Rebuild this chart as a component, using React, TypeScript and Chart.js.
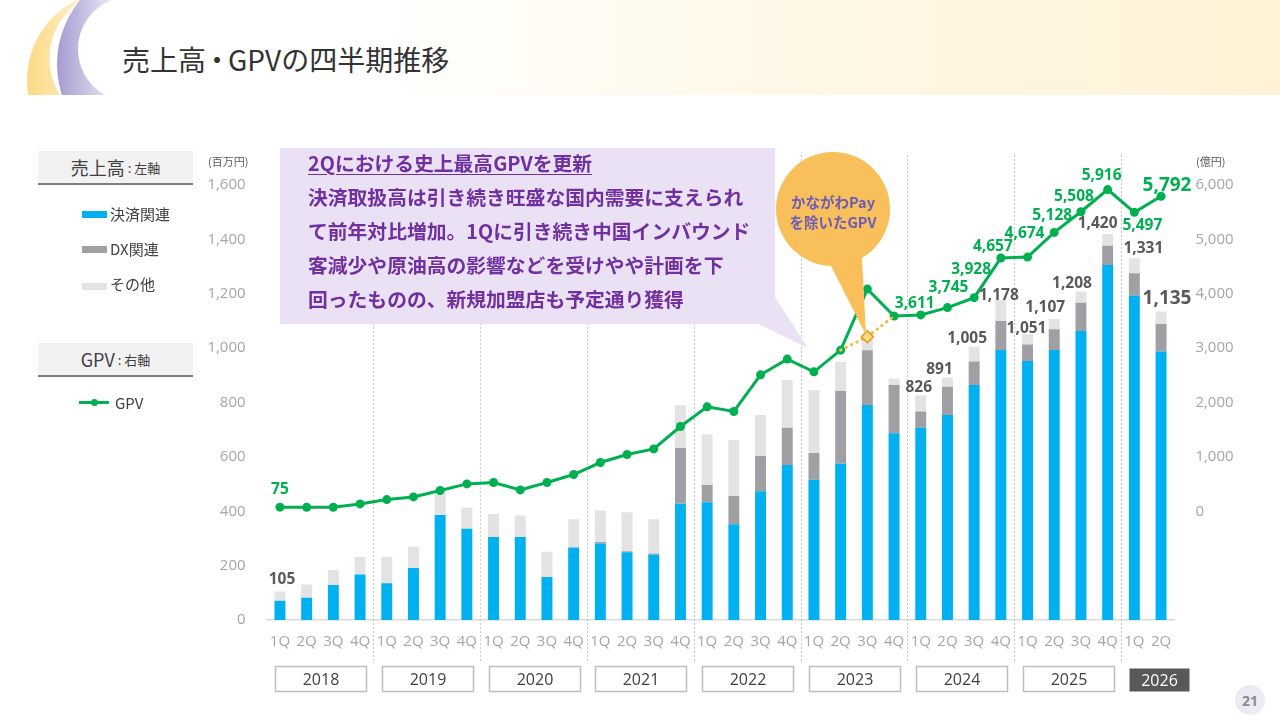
import React, { useEffect, useRef } from "react";
import { Chart, registerables } from "chart.js";

Chart.register(...registerables);

// ---------- data ----------
const quarterLabels = [
  "1Q", "2Q", "3Q", "4Q", // 2018
  "1Q", "2Q", "3Q", "4Q", // 2019
  "1Q", "2Q", "3Q", "4Q", // 2020
  "1Q", "2Q", "3Q", "4Q", // 2021
  "1Q", "2Q", "3Q", "4Q", // 2022
  "1Q", "2Q", "3Q", "4Q", // 2023
  "1Q", "2Q", "3Q", "4Q", // 2024
  "1Q", "2Q", "3Q", "4Q", // 2025
  "1Q", "2Q", // 2026
];
const yearLabels = ["2018", "2019", "2020", "2021", "2022", "2023", "2024", "2025", "2026"];

// 売上高 (百万円)
const paymentSales = [
  71, 82, 129, 167,
  135, 191, 386, 336,
  305, 305, 158, 267,
  281, 249, 240, 428,
  433, 352, 474, 570,
  516, 575, 791, 687,
  707, 754, 864, 993,
  953, 993, 1063, 1306,
  1194, 988,
];
const dxSales = [
  0, 0, 0, 0,
  0, 0, 0, 0,
  0, 0, 0, 0,
  6, 4, 5, 205,
  64, 104, 129, 137,
  98, 267, 201, 177,
  60, 104, 87, 107,
  60, 76, 104, 71,
  81, 101,
];
const otherSales = [
  34, 49, 55, 65,
  97, 79, 84, 78,
  85, 79, 93, 104,
  116, 143, 126, 158,
  186, 206, 151, 176,
  232, 108, 40, 24,
  59, 33, 54, 78,
  38, 38, 41, 43,
  56, 46,
];
const salesLabelValues: (number | null)[] = [
  105, null, null, null,
  null, null, null, null,
  null, null, null, null,
  null, null, null, null,
  null, null, null, null,
  null, null, null, null,
  826, 891, 1005, 1178,
  1051, 1107, 1208, 1420,
  1331, 1135,
];

// GPV (億円)
const gpvValues = [
  75, 72, 73, 135,
  215, 264, 381, 503,
  528, 392, 528, 675,
  896, 1043, 1147, 1559,
  1920, 1835, 2509, 2798,
  2564, 2963, 4086, 3590,
  3611, 3745, 3928, 4657,
  4674, 5128, 5508, 5916,
  5497, 5792,
];
const gpvExKanagawa: (number | null)[] = [
  null, null, null, null,
  null, null, null, null,
  null, null, null, null,
  null, null, null, null,
  null, null, null, null,
  null, 2963, 3209, 3590,
  null, null, null, null,
  null, null, null, null,
  null, null,
];
const gpvLabelValues: (number | null)[] = [
  75, null, null, null,
  null, null, null, null,
  null, null, null, null,
  null, null, null, null,
  null, null, null, null,
  null, null, null, null,
  3611, 3745, 3928, 4657,
  4674, 5128, 5508, 5916,
  5497, 5792,
];

const fmt = (v: number) => String(Math.round(v)).replace(/\B(?=(\d{3})+(?!\d))/g, ",");
const FAM = "'Open Sans', 'Noto Sans CJK JP', sans-serif";
const JP = "'Noto Sans CJK JP', 'Noto Sans', sans-serif";

export default function App() {
  const canvasRef = useRef<HTMLCanvasElement>(null);

  useEffect(() => {
    const canvas = canvasRef.current;
    if (!canvas) return;
    const n = quarterLabels.length;
    const last = n - 1;

    // label offsets (label centre relative to anchor)
    const barOff: Record<number, [number, number]> = {
      0: [2, -12], 24: [-2, -8], 25: [-8, -8], 26: [-7, -8], 27: [-2, -4],
      28: [-1, -6], 29: [-9, -11], 30: [-9, -8], 31: [-10, -10], 32: [9, -10], 33: [6, -13],
    };
    const gpvOff: Record<number, [number, number]> = {
      0: [0, -18], 24: [-6, -11], 25: [1, -20], 26: [-3, -28], 27: [-8, -11],
      28: [-3, -24], 29: [-2, -17], 30: [-7, -15], 31: [-6, -14], 32: [8, 13], 33: [6, -11],
    };

    const decor = {
      id: "decor",
      beforeDatasetsDraw(chart: any) {
        const { ctx } = chart;
        const x = chart.scales.x;
        ctx.save();
        ctx.strokeStyle = "#C8C8C8";
        ctx.lineWidth = 1;
        ctx.setLineDash([2, 2]);
        for (let i = 4; i < n; i += 4) {
          const xp = Math.round((x.getPixelForValue(i - 1) + x.getPixelForValue(i)) / 2) + 0.5;
          ctx.beginPath();
          ctx.moveTo(xp, 155);
          ctx.lineTo(xp, 662);
          ctx.stroke();
        }
        ctx.restore();
      },
      afterDatasetsDraw(chart: any) {
        const { ctx } = chart;
        const x = chart.scales.x;
        const y = chart.scales.y;
        const y1 = chart.scales.y1;
        ctx.save();
        ctx.textAlign = "center";
        ctx.textBaseline = "middle";
        salesLabelValues.forEach((v, i) => {
          if (v == null) return;
          const o = barOff[i] || [0, -10];
          ctx.font = `bold ${i === last ? 19 : 15.5}px ${FAM}`;
          ctx.fillStyle = "#595959";
          ctx.fillText(fmt(v), x.getPixelForValue(i) + o[0], y.getPixelForValue(v) + o[1]);
        });
        gpvLabelValues.forEach((v, i) => {
          if (v == null) return;
          const o = gpvOff[i] || [0, -14];
          ctx.font = `bold ${i === last ? 19 : 15.5}px ${FAM}`;
          ctx.fillStyle = "#00B050";
          ctx.fillText(fmt(v), x.getPixelForValue(i) + o[0], y1.getPixelForValue(v) + o[1]);
        });
        // year boxes
        yearLabels.forEach((yr, k) => {
          const first = k * 4;
          const lastQ = Math.min(k * 4 + 3, last);
          const isLastYear = k === yearLabels.length - 1;
          const left = Math.round(x.getPixelForValue(first) - 5) + 0.5;
          const right = Math.round(x.getPixelForValue(lastQ) + (isLastYear ? 28 : 6)) + 0.5;
          const top = isLastYear ? 668.5 : 666.5;
          const bottom = 691.5;
          if (isLastYear) {
            ctx.fillStyle = "#58585A";
            ctx.fillRect(left, top, right - left, bottom - top);
          } else {
            ctx.fillStyle = "#FFFFFF";
            ctx.fillRect(left, top, right - left, bottom - top);
            ctx.strokeStyle = "#BFBFBF";
            ctx.lineWidth = 1.5;
            ctx.strokeRect(left, top, right - left, bottom - top);
          }
          ctx.font = `16px ${FAM}`;
          ctx.fillStyle = isLastYear ? "#FFFFFF" : "#404040";
          ctx.fillText(yr, (left + right) / 2, (top + bottom) / 2 + 1);
        });
        ctx.restore();
      },
    };

    const tickFont = { size: 15, family: FAM };
    const chart = new Chart(canvas, {
      type: "bar",
      data: {
        labels: quarterLabels,
        datasets: [
          {
            type: "line",
            label: "かながわPayを除いたGPV",
            data: gpvExKanagawa,
            yAxisID: "y1",
            borderColor: "#F8B84A",
            borderWidth: 3,
            borderDash: [0.5, 5.5],
            borderCapStyle: "round",
            pointStyle: "rectRot",
            pointRadius: (c: any) => (c.dataIndex === 22 ? 6 : 0),
            pointBackgroundColor: "#FFDF80",
            pointBorderColor: "#E3961B",
            pointBorderWidth: 1.5,
            order: -1,
            spanGaps: false,
          } as any,
          {
            type: "line",
            label: "GPV",
            data: gpvValues,
            yAxisID: "y1",
            borderColor: "#00B050",
            backgroundColor: "#00B050",
            borderWidth: 3,
            pointRadius: 4.5,
            pointBackgroundColor: "#00B050",
            pointBorderWidth: 0,
            tension: 0,
            order: 0,
          } as any,
          {
            label: "決済関連",
            data: paymentSales,
            backgroundColor: "#00B0F0",
            yAxisID: "y",
            stack: "sales",
            order: 2,
            barPercentage: 0.41,
            categoryPercentage: 1,
          },
          {
            label: "DX関連",
            data: dxSales,
            backgroundColor: "#A0A0A4",
            yAxisID: "y",
            stack: "sales",
            order: 2,
            barPercentage: 0.41,
            categoryPercentage: 1,
          },
          {
            label: "その他",
            data: otherSales,
            backgroundColor: "#E3E3E3",
            yAxisID: "y",
            stack: "sales",
            order: 2,
            barPercentage: 0.41,
            categoryPercentage: 1,
          },
        ],
      },
      options: {
        responsive: false,
        animation: false,
        events: [],
        layout: { padding: { top: 185, left: 0, right: 0, bottom: 0 } },
        plugins: { legend: { display: false }, tooltip: { enabled: false } },
        scales: {
          x: {
            stacked: true,
            offset: true,
            grid: { display: false, drawTicks: false },
            border: { display: true, color: "#DADADA", width: 1.5 },
            ticks: { color: "#A6A6A6", font: tickFont, padding: 13, maxRotation: 0, autoSkip: false },
            afterFit: (s: any) => { s.height = 100; },
          },
          y: {
            position: "left",
            stacked: true,
            min: 0,
            max: 1600,
            grid: { display: false, drawTicks: false },
            border: { display: false },
            ticks: { stepSize: 200, color: "#A6A6A6", font: tickFont, padding: 21, callback: (v: any) => fmt(Number(v)) },
            afterFit: (s: any) => { s.width = 266.6; },
          },
          y1: {
            position: "right",
            min: -2000,
            max: 6000,
            grid: { display: false, drawTicks: false },
            border: { display: false },
            ticks: {
              stepSize: 1000,
              color: "#A6A6A6",
              font: tickFont,
              padding: 21,
              callback: (v: any) => (Number(v) < 0 ? "" : fmt(Number(v))),
            },
            afterFit: (s: any) => { s.width = 105.6; },
          },
        },
      } as any,
      plugins: [decor],
    });
    return () => chart.destroy();
  }, []);

  const legendHeader: React.CSSProperties = {
    position: "absolute",
    left: 38,
    width: 155,
    height: 32,
    background: "#F2F2F2",
    borderBottom: "2px solid #7F7F7F",
    display: "flex",
    alignItems: "center",
    justifyContent: "center",
    color: "#404040",
    fontFamily: JP,
    whiteSpace: "pre",
  };
  const legendText: React.CSSProperties = {
    position: "absolute",
    left: 110,
    fontSize: 15,
    color: "#404040",
    fontFamily: JP,
    lineHeight: "18px",
  };

  return (
    <div style={{ position: "absolute", left: 0, top: 0, width: 1280, height: 720, overflow: "hidden", background: "#FFFFFF" }}>
      {/* header band */}
      <div
        style={{
          position: "absolute", left: 0, top: 0, width: 1280, height: 95,
          background: "linear-gradient(90deg, #FFFFFF 0%, #FFFFFF 28%, #FFF8E8 60%, #FFF2D6 100%)",
        }}
      />
      <svg width={1280} height={720} style={{ position: "absolute", left: 0, top: 0, pointerEvents: "none" }}>
        <defs>
          <clipPath id="band"><rect x={0} y={0} width={300} height={95} /></clipPath>
          <linearGradient id="yel" gradientUnits="userSpaceOnUse" x1="26" y1="0" x2="100" y2="0">
            <stop offset="0" stopColor="#FCD983" />
            <stop offset="0.35" stopColor="#FDE3A2" />
            <stop offset="0.75" stopColor="#FFF3D6" />
            <stop offset="1" stopColor="#FFFFFF" />
          </linearGradient>
          <linearGradient id="pur" gradientUnits="userSpaceOnUse" x1="56" y1="0" x2="128" y2="0">
            <stop offset="0" stopColor="#A49BCF" />
            <stop offset="0.35" stopColor="#C2BCE0" />
            <stop offset="0.75" stopColor="#E8E5F3" />
            <stop offset="1" stopColor="#FFFFFF" />
          </linearGradient>
        </defs>
        <g clipPath="url(#band)">
          <circle cx={116} cy={80} r={89} fill="url(#yel)" />
          <circle cx={117.4} cy={58.6} r={68} fill="#FFFFFF" />
          <circle cx={157} cy={64} r={100} fill="url(#pur)" />
          <circle cx={130.4} cy={49.1} r={52.4} fill="#FFFFFF" />
        </g>
      </svg>
      <div
        style={{
          position: "absolute", left: 122, top: 41, fontSize: 28, lineHeight: "36px",
          color: "#333333", fontFamily: JP, whiteSpace: "nowrap",
        }}
      >
        売上高<span style={{ margin: "0 -3px" }}>・</span>GPVの四半期推移
      </div>

      <canvas ref={canvasRef} width={1280} height={720} style={{ position: "absolute", left: 0, top: 0, width: 1280, height: 720 }} />

      {/* axis units */}
      <div style={{ position: "absolute", left: 208, top: 153, fontSize: 11, color: "#595959", fontFamily: JP }}>(百万円)</div>
      <div style={{ position: "absolute", left: 1196, top: 153, fontSize: 11, color: "#595959", fontFamily: JP }}>(億円)</div>

      {/* legend */}
      <div style={{ ...legendHeader, top: 151 }}>
        <span style={{ fontSize: 18 }}>売上高</span>
        <span style={{ fontSize: 13 }}> : 左軸</span>
      </div>
      <div style={{ position: "absolute", left: 82, top: 211, width: 25, height: 7, background: "#00B0F0" }} />
      <div style={{ ...legendText, top: 205 }}>決済関連</div>
      <div style={{ position: "absolute", left: 82, top: 246, width: 25, height: 7, background: "#A0A0A4" }} />
      <div style={{ ...legendText, top: 240 }}>DX関連</div>
      <div style={{ position: "absolute", left: 82, top: 283, width: 25, height: 7, background: "#E3E3E3" }} />
      <div style={{ ...legendText, top: 275 }}>その他</div>

      <div style={{ ...legendHeader, top: 343 }}>
        <span style={{ fontSize: 18 }}>GPV</span>
        <span style={{ fontSize: 13 }}> : 右軸</span>
      </div>
      <div style={{ position: "absolute", left: 79, top: 401, width: 30, height: 3, background: "#00B050" }} />
      <div style={{ position: "absolute", left: 90.5, top: 399, width: 7, height: 7, borderRadius: "50%", background: "#00B050" }} />
      <div style={{ ...legendText, left: 115, top: 394 }}>GPV</div>

      {/* annotation box + callout */}
      <svg width={1280} height={720} style={{ position: "absolute", left: 0, top: 0, pointerEvents: "none" }}>
        <rect x={280} y={148} width={495} height={176} fill="#EBE1F5" />
        <polygon points="758,324 775,297 808,348" fill="#EBE1F5" />
        <circle cx={833} cy={209} r={57} fill="#F8BF5A" />
        <polygon points="828,260 862,258 866,335" fill="#F8BF5A" />
      </svg>
      <div
        style={{
          position: "absolute", left: 308, top: 146, fontSize: 19.8, lineHeight: "34px",
          color: "#7030A0", fontWeight: 700, fontFamily: JP, whiteSpace: "nowrap",
        }}
      >
        <span style={{ textDecoration: "underline", textUnderlineOffset: 3 }}>2Qにおける史上最高GPVを更新</span>
        <br />
        決済取扱高は引き続き旺盛な国内需要に支えられ
        <br />
        て前年対比増加。1Qに引き続き中国インバウンド
        <br />
        客減少や原油高の影響などを受けやや計画を下
        <br />
        回ったものの、新規加盟店も予定通り獲得
      </div>
      <div
        style={{
          position: "absolute", left: 776, top: 192, width: 114, textAlign: "center", fontSize: 14.5,
          lineHeight: "20px", color: "#6B5CB8", fontWeight: 700, fontFamily: JP,
        }}
      >
        かながわPay
        <br />
        を除いたGPV
      </div>

      {/* page number */}
      <div
        style={{
          position: "absolute", left: 1235, top: 685, width: 30, height: 30, borderRadius: "50%",
          background: "#ECEAF4", color: "#8C8C8C", fontWeight: 700, fontSize: 14, fontFamily: FAM,
          display: "flex", alignItems: "center", justifyContent: "center",
        }}
      >
        21
      </div>
    </div>
  );
}
